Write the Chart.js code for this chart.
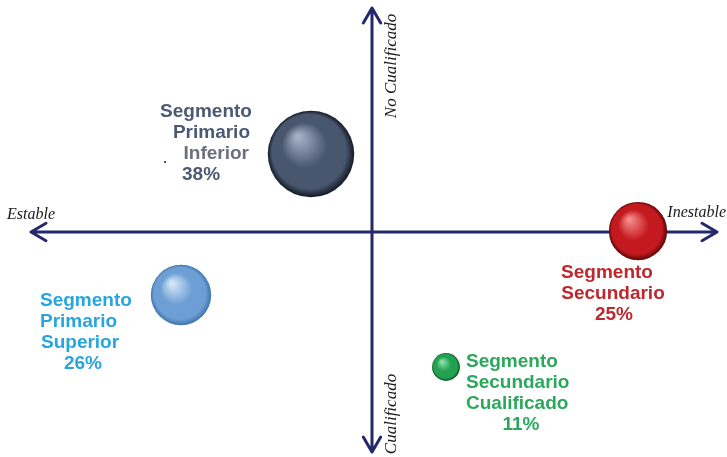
<!DOCTYPE html>
<html><head><meta charset="utf-8">
<script src="https://cdn.jsdelivr.net/npm/chart.js@4/dist/chart.umd.min.js"></script>
<style>html,body{margin:0;padding:0;background:#fff}#wrap{width:727px;height:457px;position:relative}</style>
</head><body><div id="wrap"><canvas id="c"></canvas></div>
<script>
// Data
const segments = ["Segmento Primario Inferior","Segmento Primario Superior","Segmento Secundario","Segmento Secundario Cualificado"];
const labelLines = [["Segmento","Primario","Inferior"],["Segmento","Primario","Superior"],["Segmento","Secundario"],["Segmento","Secundario","Cualificado"]];
const shares = [38, 26, 25, 11];               // %
const stability = [-6.1, -19.1, 26.6, 7.4];    // Estable (-) ... Inestable (+)
const qualification = [7.8, -6.3, 0.1, -13.5]; // Cualificado (-) ... No Cualificado (+)
const axisLabels = {left:"Estable", right:"Inestable", top:"No Cualificado", bottom:"Cualificado"};

// Styles
const colors = [
  {hi:"#a3b0c4", base:"#48566e", edge:"#131925", text:"#4b5a72"},
  {hi:"#d2e6f7", base:"#6d9fd4", edge:"#3f74ad", text:"#27a5df"},
  {hi:"#f58a8a", base:"#c41a1f", edge:"#5c0608", text:"#bf272d"},
  {hi:"#8fe0aa", base:"#22a150", edge:"#0a4f22", text:"#2aa85b"}
];
// label offsets relative to the bubble centre: [dx, align] per line, plus first-line dy
const textLayout = [
  {dy:-42, lines:[[-105,"center"],[-61,"right"],[-62,"right"],[-129,"left"]]},
  {dy:6,   lines:[[-141,"left"],[-141,"left"],[-140,"left"],[-98,"center"]]},
  {dy:42,  lines:[[-31,"center"],[-25,"center"],[-24,"center"]]},
  {dy:-5,  lines:[[20,"left"],[20,"left"],[20,"left"],[75,"center"]]}
];
const radiusFor = s => s*1.085 + 2;

const data = shares.map((s,i)=>({x:stability[i], y:qualification[i], r:radiusFor(s)}));

function bubbleFill(ctx){
  const ch = ctx.chart;
  const i = ctx.dataIndex || 0, c = colors[i] || colors[0];
  if (ctx.type !== 'data' || !ch.scales || !ch.scales.x) return c.base;
  const raw = ctx.raw, r = raw.r;
  const px = ch.scales.x.getPixelForValue(raw.x), py = ch.scales.y.getPixelForValue(raw.y);
  if (!isFinite(px) || !isFinite(py)) return c.base;
  const g = ch.ctx.createRadialGradient(px - r*0.3, py - r*0.4, r*0.05, px, py, r);
  g.addColorStop(0, c.hi);
  g.addColorStop(0.5, c.base);
  g.addColorStop(0.85, c.base);
  g.addColorStop(1, c.edge);
  return g;
}

const axesPlugin = {
  id:'quadAxes',
  beforeDatasetsDraw(chart){
    const {ctx, scales:{x,y}} = chart;
    const x0 = x.getPixelForValue(0), y0 = y.getPixelForValue(0);
    const L = 31, R = 717, T = 8, B = 452, a = 15, s = 0.58;
    ctx.save();
    ctx.strokeStyle = "#25286b"; ctx.lineWidth = 3; ctx.lineCap = "round"; ctx.lineJoin="round";
    ctx.beginPath();
    ctx.moveTo(L, y0); ctx.lineTo(R, y0);
    ctx.moveTo(x0, T); ctx.lineTo(x0, B);
    ctx.moveTo(L+a, y0-a*s); ctx.lineTo(L, y0); ctx.lineTo(L+a, y0+a*s);
    ctx.moveTo(R-a, y0-a*s); ctx.lineTo(R, y0); ctx.lineTo(R-a, y0+a*s);
    ctx.moveTo(x0-a*s, T+a); ctx.lineTo(x0, T); ctx.lineTo(x0+a*s, T+a);
    ctx.moveTo(x0-a*s, B-a); ctx.lineTo(x0, B); ctx.lineTo(x0+a*s, B-a);
    ctx.stroke();
    ctx.fillStyle = "#1a1a1a";
    ctx.font = "italic 16px 'Liberation Serif', serif";
    ctx.textBaseline = "alphabetic";
    ctx.textAlign = "left"; ctx.fillText(axisLabels.left, 7, y0-13);
    ctx.textAlign = "right"; ctx.fillText(axisLabels.right, 726, y0-15);
    ctx.font = "italic 17px 'Liberation Serif', serif";
    ctx.textAlign = "center"; ctx.textBaseline = "middle";
    ctx.save(); ctx.translate(x0+20, 66); ctx.rotate(-Math.PI/2); ctx.fillText(axisLabels.top, 0, 0); ctx.restore();
    ctx.save(); ctx.translate(x0+20, 414); ctx.rotate(-Math.PI/2); ctx.fillText(axisLabels.bottom, 0, 0); ctx.restore();
    ctx.restore();
  },
  afterDatasetsDraw(chart){
    const {ctx} = chart;
    const meta = chart.getDatasetMeta(0);
    ctx.save();
    ctx.font = "bold 19px 'Liberation Sans', Arial, sans-serif";
    ctx.textBaseline = "middle";
    meta.data.forEach((el,i)=>{
      const lay = textLayout[i];
      const lines = labelLines[i].concat([shares[i] + "%"]);
      lines.forEach((t,k)=>{
        const [dx, align] = lay.lines[k];
        ctx.textAlign = align;
        ctx.fillStyle = (i===0 && k===2) ? "#6e6f7e" : colors[i].text;
        ctx.fillText(t, el.x + dx, el.y + lay.dy + k*21);
      });
    });
    ctx.fillStyle = "#4b5a72"; ctx.fillRect(164,161,2,2);
    ctx.restore();
  }
};

new Chart(document.getElementById('c'), {
  type:'bubble',
  data:{ datasets:[{ label:"Segmentos", data, backgroundColor:bubbleFill, borderWidth:0, hoverRadius:0 }]},
  options:{
    responsive:true, maintainAspectRatio:false, animation:false, events:[],
    layout:{padding:0, autoPadding:false},
    plugins:{legend:{display:false}, tooltip:{enabled:false}},
    scales:{
      x:{type:'linear', min:-37.2, max:35.5, display:false},
      y:{type:'linear', min:-22.5, max:23.2, display:false}
    }
  },
  plugins:[axesPlugin]
});
</script></body></html>
